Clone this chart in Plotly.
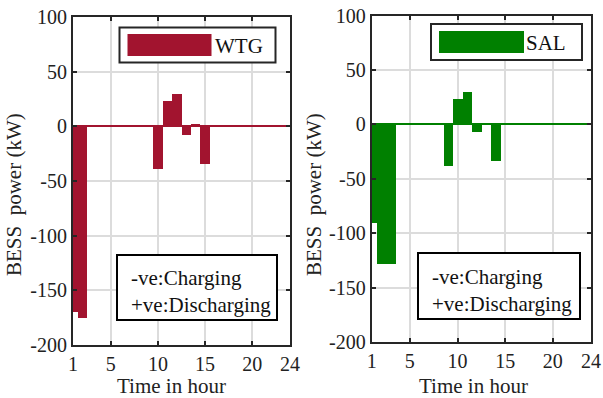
import plotly.graph_objects as go

hours = list(range(1, 25))
wtg = [-170, -175, 0, 0, 0, 0, 0, 0, 0, -39, 23, 30, -8, 2, -34, 0, 0, 0, 0, 0, 0, 0, 0, 0]
sal = [-90, -128, -128, 0, 0, 0, 0, 0, -38, 24, 30, -7, 1.5, -33, 0, 0, 0, 0, 0, 0, 0, 0, 0, 0]
xticks = [1, 5, 10, 15, 20, 24]
yticks = [100, 50, 0, -50, -100, -150, -200]

RED = "#A2142F"
GREEN = "#008000"
FONT = "Liberation Serif, Times New Roman, serif"
DARK = "#262626"
FS = 20
FT = 21

fig = go.Figure()
fig.add_trace(go.Bar(x=hours, y=wtg, width=1, marker=dict(color=RED, line=dict(width=0)),
                     xaxis="x", yaxis="y", name="WTG", showlegend=False))
fig.add_trace(go.Bar(x=hours, y=sal, width=1, marker=dict(color=GREEN, line=dict(width=0)),
                     xaxis="x2", yaxis="y2", name="SAL", showlegend=False))

def xax(domain, anchor):
    return dict(domain=domain, anchor=anchor, range=[1, 24], tickvals=xticks, automargin=False,
                ticktext=[str(t) for t in xticks], showgrid=True, gridcolor="#dcdcdc", gridwidth=1.5,
                zeroline=False, showline=True, linecolor=DARK, linewidth=2, mirror="ticks",
                ticks="inside", ticklen=4, tickwidth=2, tickcolor=DARK,
                tickfont=dict(family=FONT, size=FS, color="#222"))

def yax(domain, anchor, zc):
    return dict(domain=domain, anchor=anchor, range=[-200, 100], tickvals=yticks, automargin=False,
                ticktext=[str(t) for t in yticks], showgrid=True, gridcolor="#dcdcdc", gridwidth=1.5,
                zeroline=True, zerolinecolor=zc, zerolinewidth=2,
                showline=True, linecolor=DARK, linewidth=2, mirror="ticks",
                ticks="inside", ticklen=4, tickwidth=2, tickcolor=DARK,
                tickfont=dict(family=FONT, size=FS, color="#222"))

W, H = 603, 398
def px(x):
    return x / W
def py(y):
    return 1 - y / H

shapes = []
annotations = []

def legend_box(x0, y0, x1, y1, px0, py0, px1, py1, color, label, tx):
    shapes.append(dict(type="rect", xref="paper", yref="paper", x0=px(x0), x1=px(x1), y0=py(y1), y1=py(y0),
                       line=dict(color=DARK, width=2), fillcolor="white", layer="above"))
    shapes.append(dict(type="rect", xref="paper", yref="paper", x0=px(px0), x1=px(px1), y0=py(py1), y1=py(py0),
                       line=dict(width=0), fillcolor=color, layer="above"))
    annotations.append(dict(xref="paper", yref="paper", x=px(tx), y=py((y0 + y1) / 2 + 1), text=label,
                            showarrow=False, xanchor="left", yanchor="middle",
                            font=dict(family=FONT, size=FT, color="#111")))

legend_box(119.5, 27.5, 275.5, 62.5, 127.5, 34, 211.5, 56, RED, "WTG", 213)
legend_box(431, 24, 582, 60, 439, 31, 524, 53, GREEN, "SAL", 524)

def note_box(x0, y0, x1, y1):
    shapes.append(dict(type="rect", xref="paper", yref="paper", x0=px(x0), x1=px(x1), y0=py(y1), y1=py(y0),
                       line=dict(color="black", width=2), fillcolor="white", layer="above"))
    annotations.append(dict(xref="paper", yref="paper", x=px(x0 + 12), y=py((y0 + y1) / 2 + 4),
                            text="-ve:Charging<br>+ve:Discharging", showarrow=False,
                            xanchor="left", yanchor="middle", align="left",
                            font=dict(family=FONT, size=FT, color="#111")))

note_box(117, 255, 277, 320)
note_box(418, 253, 580, 319)

for cx in (171, 473):
    annotations.append(dict(xref="paper", yref="paper", x=px(cx), y=py(386), text="Time in hour",
                            showarrow=False, xanchor="center", yanchor="middle",
                            font=dict(family=FONT, size=FT, color="#222")))
for cx in (14, 314):
    annotations.append(dict(xref="paper", yref="paper", x=px(cx), y=py(195), text="BESS  power (kW)",
                            showarrow=False, xanchor="center", yanchor="middle", textangle=-90,
                            font=dict(family=FONT, size=FT, color="#222")))

fig.update_layout(
    width=W, height=H, autosize=False,
    margin=dict(l=0, r=0, t=0, b=0, pad=0, autoexpand=False),
    paper_bgcolor="white", plot_bgcolor="white",
    bargap=0,
    font=dict(family=FONT),
    xaxis=xax([px(73), px(290)], "y"),
    yaxis=yax([py(345), py(17)], "x", RED),
    xaxis2=xax([px(371.7), px(591)], "y2"),
    yaxis2=yax([py(342), py(15.7)], "x2", GREEN),
    shapes=shapes, annotations=annotations,
    showlegend=False,
)

fig.write_html("out.html")
